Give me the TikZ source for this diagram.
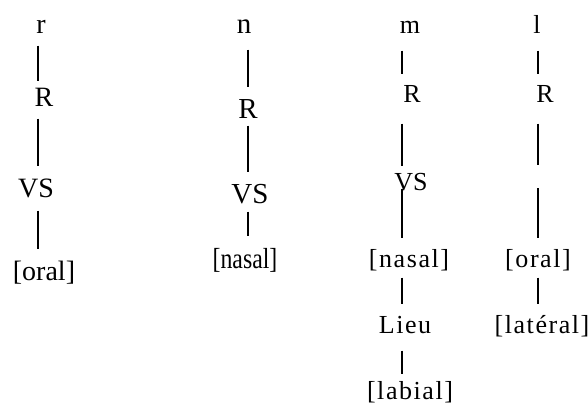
\documentclass[tikz,border=0pt]{standalone}
\usepackage{fontspec}
\setmainfont{Liberation Serif}
\begin{document}
\begin{tikzpicture}[x=1bp,y=-1bp,
  lab/.style={inner sep=0pt, text height=0pt, text depth=0pt, anchor=base},
  big/.style={lab, font=\fontsize{28bp}{32bp}\selectfont},
  tall/.style={lab, font=\fontsize{29bp}{33bp}\selectfont},
  wide/.style={lab, font=\fontsize{26bp}{30bp}\selectfont\addfontfeature{LetterSpace=6}},
  tight/.style={lab, font=\fontsize{26bp}{30bp}\selectfont},
  branch/.style={line width=1.7bp}]
\useasboundingbox (0,0) rectangle (588,405);

% column r
\coordinate (xa) at (38,0);
\node[big] (r)   at (41,33)  {r};
\node[big] (ra)  at (44,106) {R};
\node[big] (rb)  at (36,197) {VS};
\node[big] (rc)  at (44,280) {[oral]};
\draw[branch, shorten <=12bp, shorten >=26bp] (r.south -| xa) -- (ra.south -| xa);
\draw[branch, shorten <=12bp, shorten >=32bp] (ra.south -| xa) -- (rb.south -| xa);
\draw[branch, shorten <=13bp, shorten >=32bp] (rb.south -| xa) -- (rc.south -| xa);

% column n
\coordinate (xb) at (248,0);
\node[tall] (n)  at (244,33)  {n};
\node[tall] (na) at (248,118) {R};
\node[tall] (nb) at (250,203) {VS};
\node[tall] (nc) at (245,268) {\scalebox{0.82}[1]{[nasal]}};
\draw[branch, shorten <=16bp, shorten >=32bp] (n.south -| xb)  -- (na.south -| xb);
\draw[branch, shorten <=7bp,  shorten >=32bp] (na.south -| xb) -- (nb.south -| xb);
\draw[branch, shorten <=8bp,  shorten >=33bp] (nb.south -| xb) -- (nc.south -| xb);

% column m
\coordinate (xc) at (402,0);
\node[wide]  (m)  at (410,33)  {m};
\node[wide]  (ma) at (412,102) {R};
\node[tight] (mb) at (411,190) {VS};
\node[wide]  (mc) at (409,267) {[nasal]};
\node[wide]  (md) at (405,333) {Lieu};
\node[wide]  (me) at (410,399) {[labial]};
\draw[branch, shorten <=17bp, shorten >=29bp] (m.south -| xc)  -- (ma.south -| xc);
\draw[branch, shorten <=21bp, shorten >=25bp] (ma.south -| xc) -- (mb.south -| xc);
\draw[branch, shorten <=-2bp, shorten >=30bp] (mb.south -| xc) -- (mc.south -| xc);
\draw[branch, shorten <=10bp, shorten >=30bp] (mc.south -| xc) -- (md.south -| xc);
\draw[branch, shorten <=17bp, shorten >=26bp] (md.south -| xc) -- (me.south -| xc);

% column l
\coordinate (xd) at (538,0);
\node[wide] (l)  at (537,33)  {l};
\node[wide] (la) at (545,102) {R};
\coordinate (lgap) at (538,165);
\coordinate (lgapend) at (538,188);
\node[wide] (lc) at (538,267) {[oral]};
\node[wide] (ld) at (542,333) {[latéral]};
\draw[branch, shorten <=17bp, shorten >=29bp] (l.south -| xd)  -- (la.south -| xd);
\draw[branch, shorten <=21bp] (la.south -| xd) -- (lgap);
\draw[branch, shorten >=30bp] (lgapend) -- (lc.south -| xd);
\draw[branch, shorten <=10bp, shorten >=30bp] (lc.south -| xd) -- (ld.south -| xd);
\end{tikzpicture}
\end{document}
